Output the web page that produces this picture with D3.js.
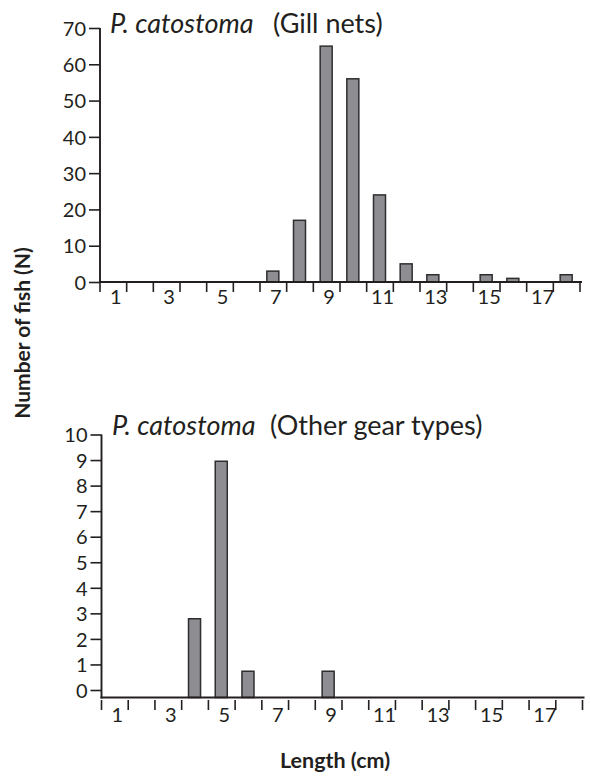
<!DOCTYPE html>
<html><head><meta charset="utf-8">
<script src="https://cdn.jsdelivr.net/npm/d3@7"></script>
<style>
body{margin:0;background:#fff;}
text{font-family:Lato,"Open Sans",sans-serif;fill:#231f20;}
</style></head>
<body><svg id="c" width="591" height="780"></svg>
<script>
const lengths = [1,2,3,4,5,6,7,8,9,10,11,12,13,14,15,16,17,18];
const gillNets = [0,0,0,0,0,0,3,17,65,56,24,5,2,0,2,1,0,2];
const otherGear = [0,0,0,3,9,1,0,0,1,0,0,0,0,0,0,0,0,0];
const xTickLabels = [1,3,5,7,9,11,13,15,17];
const yTicksTop = [0,10,20,30,40,50,60,70];
const yTicksBottom = [0,1,2,3,4,5,6,7,8,9,10];

const svg = d3.select("#c");
const ink = "#231f20";
const barFill = "#8e8e92";

function panel(cfg){
  const g = svg.append("g");
  const xb = d3.scaleBand().domain(lengths).range([cfg.x0, cfg.x1]).paddingInner(0.55).paddingOuter(0.275);
  const xEdge = d3.scaleLinear().domain([0.5, 18.5]).range([cfg.x0, cfg.x1]);
  const yBar = d3.scaleLinear().domain([0, cfg.max]).range([cfg.base, cfg.barTop]);
  const yTick = d3.scaleLinear().domain([0, cfg.max]).range([cfg.tick0, cfg.tickTop]);

  // bars
  g.selectAll("rect").data(lengths.map((l,i)=>({l, v: cfg.values[i]})).filter(d=>d.v>0))
    .enter().append("rect")
    .attr("x", d=>xb(d.l)).attr("width", xb.bandwidth())
    .attr("y", d=>yBar(d.v)).attr("height", d=>cfg.base - yBar(d.v))
    .attr("fill", barFill).attr("stroke", "#2e2e30").attr("stroke-width", 1.5);

  // y axis
  const ya = g.append("g").attr("transform", `translate(${cfg.yAxisX},0)`)
    .call(d3.axisLeft(yTick).tickValues(cfg.yTicks).tickSize(11).tickPadding(3).tickFormat(d3.format("d")));
  ya.select(".domain").remove();
  ya.selectAll(".tick line").attr("stroke", ink).attr("stroke-width", 1.6);
  ya.selectAll(".tick text").style("font-size", "20px").attr("fill", ink).attr("dy", "0.36em");
  g.append("line").attr("x1", cfg.yAxisX).attr("x2", cfg.yAxisX)
    .attr("y1", cfg.tickTop).attr("y2", cfg.base + 1)
    .attr("stroke", ink).attr("stroke-width", 1.9);

  // x axis line
  g.append("line").attr("x1", cfg.yAxisX - 1).attr("x2", cfg.x1 + 2.5)
    .attr("y1", cfg.base).attr("y2", cfg.base)
    .attr("stroke", ink).attr("stroke-width", 1.9);

  // x tick marks at band edges
  const xe = g.append("g").attr("transform", `translate(0,${cfg.base + cfg.tickGap})`)
    .call(d3.axisBottom(xEdge).tickValues(d3.range(0.5, 18.6, 1)).tickSize(10).tickFormat(""));
  xe.select(".domain").remove();
  xe.selectAll(".tick line").attr("stroke", ink).attr("stroke-width", 1.6);

  // x labels
  const xl = g.append("g").attr("transform", `translate(3,${cfg.base + cfg.labelOff})`)
    .call(d3.axisBottom(xb).tickValues(xTickLabels).tickSize(0).tickPadding(0));
  xl.select(".domain").remove();
  xl.selectAll(".tick text").style("font-size", "20px").attr("fill", ink).attr("dy", "0.72em");

  // title
  const t = g.append("text").attr("x", cfg.titleX).attr("y", cfg.titleY).style("font-size", "27px");
  t.append("tspan").style("font-style", "italic").text("P. catostoma");
  t.append("tspan").attr("x", cfg.titleX2).text(cfg.title);
}

panel({values: gillNets, max: 70, yTicks: yTicksTop,
  x0: 99.5, x1: 579.5, yAxisX: 100, base: 282, barTop: 28, tick0: 282, tickTop: 28,
  tickGap: 0, labelOff: 8, titleX: 110, titleX2: 273, titleY: 33, title: "(Gill nets)"});

panel({values: otherGear, max: 10, yTicks: yTicksBottom,
  x0: 101, x1: 582, yAxisX: 101.5, base: 697.5, barTop: 435, tick0: 690, tickTop: 434.5,
  tickGap: 2.5, labelOff: 10, titleX: 112, titleX2: 270, titleY: 435, title: "(Other gear types)"});

svg.append("text").attr("x", 335).attr("y", 768).attr("text-anchor", "middle")
  .style("font-size", "21.5px").style("font-weight", "bold").text("Length (cm)");
svg.append("text").attr("transform", "translate(30,333) rotate(-90)").attr("text-anchor", "middle")
  .style("font-size", "21px").style("font-weight", "bold").text("Number of fish (N)");
</script></body></html>
